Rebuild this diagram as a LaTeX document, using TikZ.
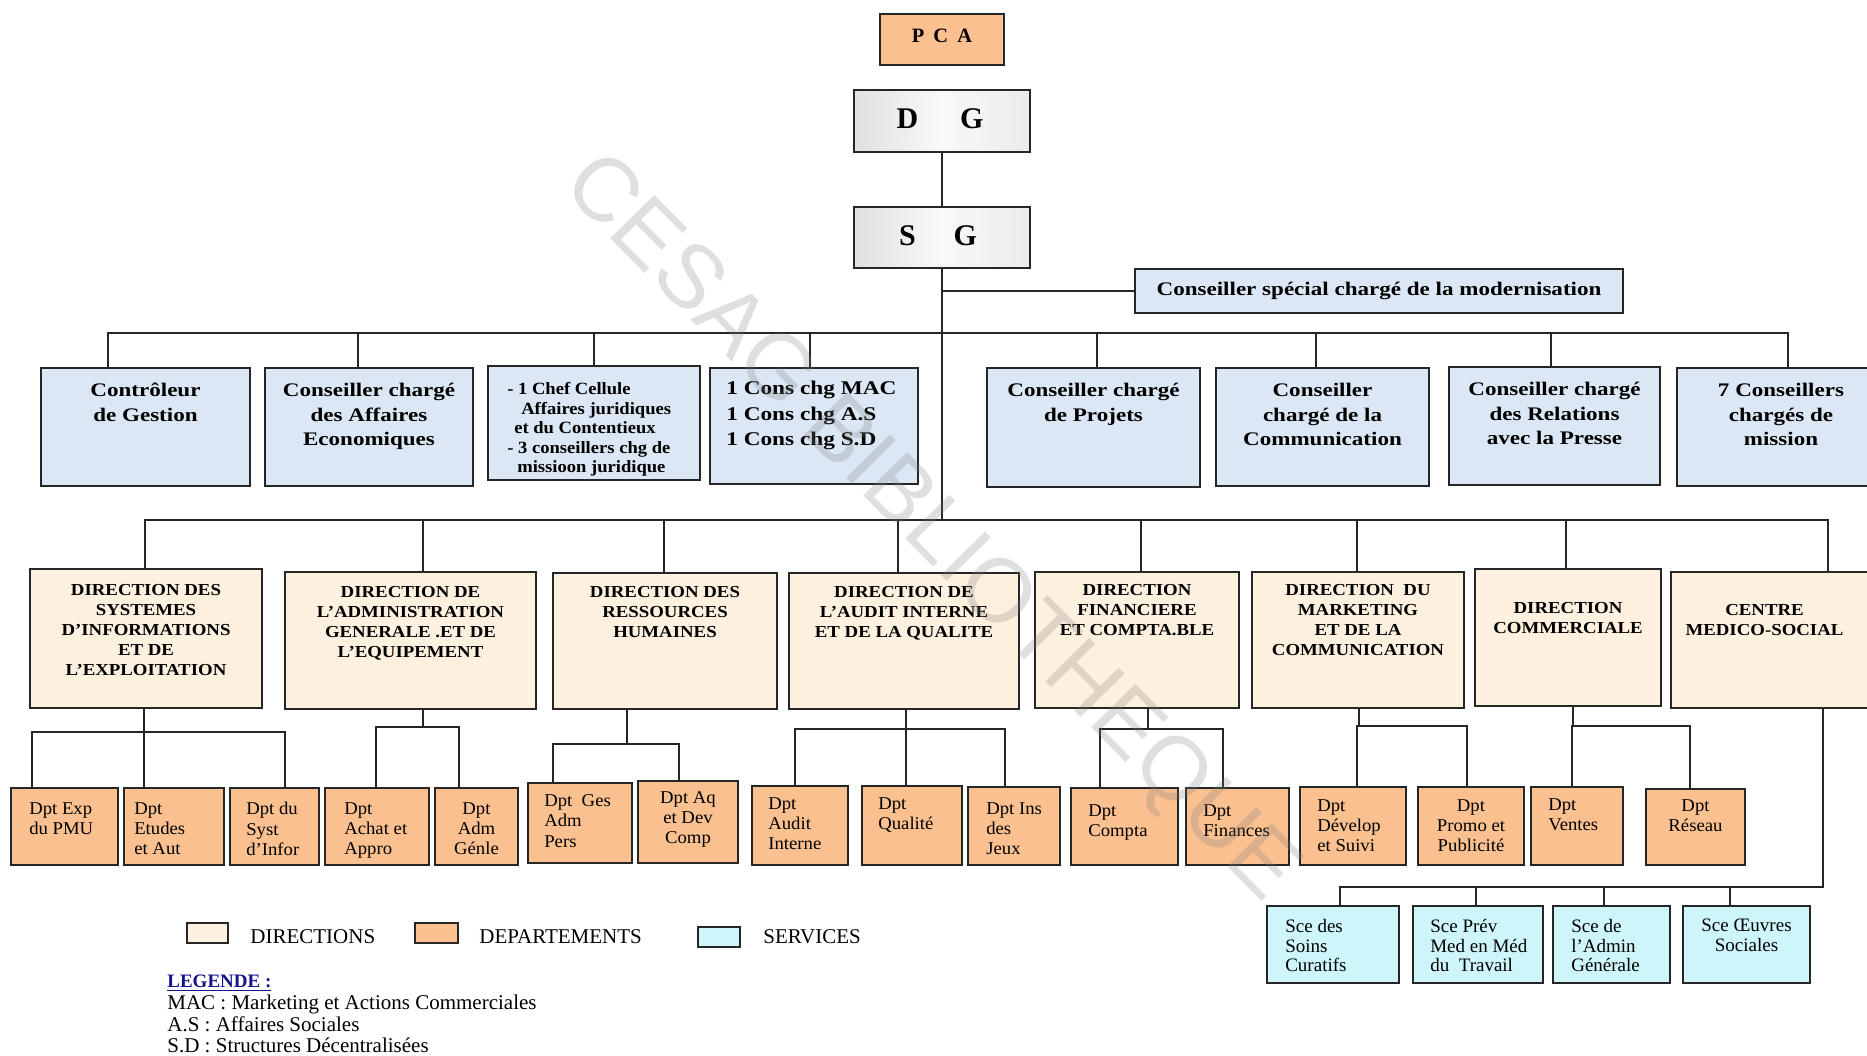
\documentclass[tikz,border=0pt]{standalone}
\usepackage{fontspec}
\setmainfont{Liberation Serif}
\newfontfamily\fwA[FakeStretch=1.2]{Liberation Serif}
\newfontfamily\fwB[FakeStretch=1.12]{Liberation Serif}
\newfontfamily\fwC[FakeStretch=1.04]{Liberation Serif}
\newfontfamily\fwD[FakeStretch=1.08]{Liberation Serif}
\newfontfamily\wmfont{Liberation Sans}
\usetikzlibrary{fit,calc}
\definecolor{cblue}{RGB}{220,231,245}
\definecolor{ccream}{RGB}{253,240,222}
\definecolor{corange}{RGB}{250,192,144}
\definecolor{ccyan}{RGB}{206,246,250}
\definecolor{cnavy}{RGB}{20,20,140}
\newcommand{\mkbox}[6]{\node[#2, fit={(#3,#4) (#5,#6)}] (#1) {};}
\newcommand{\tctr}[4]{\node[#2, anchor=north] (#1-t) at ([yshift=-#3pt]#1.north) {#4};}
\newcommand{\tlft}[5]{\node[#2, anchor=north west, align=left] (#1-t) at ([xshift=#3pt, yshift=-#4pt]#1.north west) {#5};}
\newcommand{\lnDown}[4]{\coordinate (#1) at (#2,#3); \draw[conn] (#1) -- (#1 |- #4.north);}
\newcommand{\lnUp}[4]{\coordinate (#1) at (#2,#3); \draw[conn] (#1 |- #4.south) -- (#1);}
\begin{document}
\begin{tikzpicture}[x=0.5pt, y=-0.5pt,
  box/.style={draw=black!85, line width=1.1pt, inner sep=0pt},
  cbox/.style={box, fill=cblue},
  dbox/.style={box, fill=ccream},
  pbox/.style={box, fill=corange},
  sbox/.style={box, fill=ccyan},
  gbox/.style={box, line width=1.3pt, left color=gray!24, right color=gray!16, middle color=gray!5},
  conn/.style={draw=black!85, line width=0.9pt, line cap=rect},
  r1txt/.style={font=\fwA\bfseries\fontsize{9.6}{12.3}\selectfont, align=center, inner sep=0pt},
  r1sm/.style={font=\fwD\bfseries\fontsize{8.6}{9.8}\selectfont, align=center, inner sep=0pt},
  r1md/.style={font=\fwA\bfseries\fontsize{9.7}{12.7}\selectfont, align=center, inner sep=0pt},
  bigtxt/.style={font=\bfseries\fontsize{15}{17}\selectfont, inner sep=0pt},
  dtxt/.style={font=\fwB\bfseries\fontsize{8.4}{10}\selectfont, align=center, inner sep=0pt},
  ptxt/.style={font=\fwC\fontsize{9}{10.2}\selectfont, align=center, inner sep=0pt},
  stxt/.style={font=\fontsize{9.5}{9.8}\selectfont, align=center, inner sep=0pt},
  legtxt/.style={font=\fontsize{10.5}{11}\selectfont, inner sep=0pt}
]
\useasboundingbox (0,0) rectangle (1867,1055);
\fill[white] (0,0) rectangle (1867,1055);
\clip (0,0) rectangle (1867,1055);

% ---- top ----
\mkbox{pca}{box, fill=corange}{880}{14}{1004}{65}
\node[font=\bfseries\fontsize{10.2}{12}\selectfont, inner sep=0pt] (pca-t) at ([yshift=2pt]pca.center) {P\hspace{0.45em}C\hspace{0.45em}A};
\mkbox{dg}{gbox}{854}{90}{1030}{152}
\node[bigtxt] (dg-t) at ([xshift=-1pt,yshift=1pt]dg.center) {D\hspace{21pt}G};
\mkbox{sg}{gbox}{854}{207}{1030}{268}
\node[bigtxt] (sg-t) at ([xshift=-2pt,yshift=1pt]sg.center) {S\hspace{19pt}G};
\mkbox{cs}{cbox}{1135}{269}{1623}{313}
\node[r1txt] (cs-t) at (cs.center) {Conseiller spécial chargé de la modernisation};

\draw[conn] (dg.south) -- (sg.north);
\coordinate (t2) at (942,520);
\draw[conn] (sg.south) -- (t2);
\draw[conn] (cs.west -| sg.south) -- (cs.west);

% ---- row 1 ----
\mkbox{r1a}{cbox}{41}{368}{250}{486}
\mkbox{r1b}{cbox}{265}{368}{473}{486}
\mkbox{r1c}{cbox}{488}{366}{700}{480}
\mkbox{r1d}{cbox}{710}{368}{918}{484}
\mkbox{r1e}{cbox}{987}{368}{1200}{487}
\mkbox{r1f}{cbox}{1216}{368}{1429}{486}
\mkbox{r1g}{cbox}{1449}{367}{1660}{485}
\mkbox{r1h}{cbox}{1677}{368}{1885}{486}

\tctr{r1a}{r1txt}{8}{Contrôleur\\de Gestion}
\tctr{r1b}{r1txt}{8}{Conseiller chargé\\des Affaires\\Economiques}
\tlft{r1c}{r1sm}{10}{8.5}{- 1 Chef Cellule\\\hspace*{7pt}Affaires juridiques\\\hspace*{3.5pt}et du Contentieux\\- 3 conseillers chg de\\\hspace*{5pt}missioon juridique}
\tlft{r1d}{r1md}{8.5}{7}{1 Cons chg MAC\\1 Cons chg A.S\\1 Cons chg S.D}
\tctr{r1e}{r1txt}{8}{Conseiller chargé\\de Projets}
\tctr{r1f}{r1txt}{8}{Conseiller\\chargé de la\\Communication}
\tctr{r1g}{r1txt}{8}{Conseiller chargé\\des Relations\\avec la Presse}
\tctr{r1h}{r1txt}{8}{7 Conseillers\\chargés de\\mission}

\lnDown{c1a}{108}{333}{r1a}
\lnDown{c1b}{358}{333}{r1b}
\lnDown{c1c}{594}{333}{r1c}
\lnDown{c1d}{810}{333}{r1d}
\lnDown{c1e}{1097}{333}{r1e}
\lnDown{c1f}{1316}{333}{r1f}
\lnDown{c1g}{1551}{333}{r1g}
\lnDown{c1h}{1788}{333}{r1h}
\draw[conn] (c1a) -- (c1h);

% ---- row 2 : directions ----
\mkbox{d1}{dbox}{30}{569}{262}{708}
\mkbox{d2}{dbox}{285}{572}{536}{709}
\mkbox{d3}{dbox}{553}{573}{777}{709}
\mkbox{d4}{dbox}{789}{573}{1019}{709}
\mkbox{d5}{dbox}{1035}{572}{1239}{708}
\mkbox{d6}{dbox}{1252}{572}{1464}{708}
\mkbox{d7}{dbox}{1475}{569}{1661}{706}
\mkbox{d8}{dbox}{1671}{572}{1870}{708}

\tctr{d1}{dtxt}{8}{DIRECTION DES\\SYSTEMES\\D’INFORMATIONS\\ET DE\\L’EXPLOITATION}
\tctr{d2}{dtxt}{7.5}{DIRECTION DE\\L’ADMINISTRATION\\GENERALE .ET DE\\L’EQUIPEMENT}
\tctr{d3}{dtxt}{7}{DIRECTION DES\\RESSOURCES\\HUMAINES}
\tctr{d4}{dtxt}{7}{DIRECTION DE\\L’AUDIT INTERNE\\ET DE LA QUALITE}
\tctr{d5}{dtxt}{6.5}{DIRECTION\\FINANCIERE\\ET COMPTA.BLE}
\tctr{d6}{dtxt}{6.5}{DIRECTION\ \ DU\\MARKETING\\ET DE LA\\COMMUNICATION}
\tctr{d7}{dtxt}{17}{DIRECTION\\COMMERCIALE}
\node[dtxt, anchor=north] (d8-t) at ([xshift=-3pt, yshift=-16.5pt]d8.north) {CENTRE\\MEDICO-SOCIAL};

\lnDown{c2a}{145}{520}{d1}
\lnDown{c2b}{423}{520}{d2}
\lnDown{c2c}{664}{520}{d3}
\lnDown{c2d}{898}{520}{d4}
\lnDown{c2e}{1141}{520}{d5}
\lnDown{c2f}{1357}{520}{d6}
\lnDown{c2g}{1566}{520}{d7}
\lnDown{c2h}{1828}{520}{d8}
\draw[conn] (c2a) -- (c2h);

% ---- row 3 : departements ----
\mkbox{p1}{pbox}{11}{788}{118}{865}
\mkbox{p2}{pbox}{124}{788}{224}{865}
\mkbox{p3}{pbox}{230}{788}{319}{865}
\mkbox{p4}{pbox}{325}{788}{429}{865}
\mkbox{p5}{pbox}{435}{788}{518}{865}
\mkbox{p6}{pbox}{528}{783}{632}{863}
\mkbox{p7}{pbox}{638}{781}{738}{863}
\mkbox{p8}{pbox}{752}{786}{848}{865}
\mkbox{p9}{pbox}{862}{786}{962}{865}
\mkbox{p10}{pbox}{968}{787}{1060}{865}
\mkbox{p11}{pbox}{1071}{788}{1178}{865}
\mkbox{p12}{pbox}{1186}{788}{1289}{865}
\mkbox{p13}{pbox}{1300}{787}{1406}{865}
\mkbox{p14}{pbox}{1418}{787}{1524}{865}
\mkbox{p15}{pbox}{1531}{787}{1623}{865}
\mkbox{p16}{pbox}{1646}{789}{1745}{865}

\tlft{p1}{ptxt}{9.5}{7.5}{Dpt Exp\\du PMU}
\tlft{p2}{ptxt}{5.5}{7.5}{Dpt\\Etudes\\et Aut}
\tlft{p3}{ptxt}{8.5}{7.5}{Dpt du\\Syst\\d’Infor}
\tlft{p4}{ptxt}{10}{7.5}{Dpt\\Achat et\\Appro}
\tctr{p5}{ptxt}{7.5}{Dpt\\Adm\\Génle}
\tlft{p6}{ptxt}{8.5}{6}{Dpt\ \ Ges\\Adm\\Pers}
\tctr{p7}{ptxt}{5.5}{Dpt Aq\\et Dev\\Comp}
\tlft{p8}{ptxt}{8.5}{6}{Dpt\\Audit\\Interne}
\tlft{p9}{ptxt}{8.5}{6}{Dpt\\Qualité}
\tlft{p10}{ptxt}{9.5}{8}{Dpt Ins\\des\\Jeux}
\tlft{p11}{ptxt}{9}{8.5}{Dpt\\Compta}
\tlft{p12}{ptxt}{9}{8.5}{Dpt\\Finances}
\tlft{p13}{ptxt}{9}{6.5}{Dpt\\Dévelop\\et Suivi}
\tctr{p14}{ptxt}{6.5}{Dpt\\Promo et\\Publicité}
\tlft{p15}{ptxt}{9}{6}{Dpt\\Ventes}
\tctr{p16}{ptxt}{5.5}{Dpt\\Réseau}

% group 1
\lnUp{u1}{144}{732}{d1}
\lnDown{g1a}{32}{732}{p1}
\lnDown{g1b}{144}{732}{p2}
\lnDown{g1c}{285}{732}{p3}
\draw[conn] (g1a) -- (g1c);
% group 2
\lnUp{u2}{423}{727}{d2}
\lnDown{g2a}{376}{727}{p4}
\lnDown{g2b}{459}{727}{p5}
\draw[conn] (g2a) -- (g2b);
% group 3
\lnUp{u3}{627}{744}{d3}
\lnDown{g3a}{553}{744}{p6}
\lnDown{g3b}{679}{744}{p7}
\draw[conn] (g3a) -- (g3b);
% group 4
\lnUp{u4}{906}{729}{d4}
\lnDown{g4a}{795}{729}{p8}
\lnDown{g4b}{906}{729}{p9}
\lnDown{g4c}{1005}{729}{p10}
\draw[conn] (g4a) -- (g4c);
% group 5
\lnUp{u5}{1148}{729}{d5}
\lnDown{g5a}{1100}{729}{p11}
\lnDown{g5b}{1223}{729}{p12}
\draw[conn] (g5a) -- (g5b);
% group 6
\lnUp{u6}{1359}{726}{d6}
\lnDown{g6a}{1357}{726}{p13}
\lnDown{g6b}{1467}{726}{p14}
\draw[conn] (g6a) -- (g6b);
% group 7
\lnUp{u7}{1573}{726}{d7}
\lnDown{g7a}{1572}{726}{p15}
\lnDown{g7b}{1690}{726}{p16}
\draw[conn] (g7a) -- (g7b);

% ---- services ----
\mkbox{s1}{sbox}{1267}{906}{1399}{983}
\mkbox{s2}{sbox}{1413}{906}{1543}{983}
\mkbox{s3}{sbox}{1553}{906}{1670}{983}
\mkbox{s4}{sbox}{1683}{906}{1810}{983}
\tlft{s1}{stxt}{9.5}{7}{Sce des\\Soins\\Curatifs}
\tlft{s2}{stxt}{9}{7}{Sce Prév\\Med en Méd\\du\ \ Travail}
\tlft{s3}{stxt}{9.5}{7}{Sce de\\l’Admin\\Générale}
\tctr{s4}{stxt}{7}{Sce Œuvres\\Sociales}

\lnUp{u8}{1823}{887}{d8}
\lnDown{g8a}{1340}{887}{s1}
\lnDown{g8b}{1476}{887}{s2}
\lnDown{g8c}{1604}{887}{s3}
\lnDown{g8d}{1730}{887}{s4}
\draw[conn] (g8a) -- (u8);

% ---- legend ----
\mkbox{l1}{box, line width=1pt, fill=ccream}{187}{923}{228}{943}
\mkbox{l2}{box, line width=1pt, fill=corange}{415}{923}{458}{943}
\mkbox{l3}{box, line width=1pt, fill=ccyan}{698}{927}{740}{947}
\node[legtxt, anchor=west] (l1-t) at ([xshift=10.5pt, yshift=-2pt]l1.east) {DIRECTIONS};
\node[legtxt, anchor=west] (l2-t) at ([xshift=10pt, yshift=-2pt]l2.east) {DEPARTEMENTS};
\node[legtxt, anchor=west] (l3-t) at ([xshift=11pt]l3.east) {SERVICES};

\node[font=\bfseries\fontsize{9.5}{11}\selectfont, text=cnavy, inner sep=0pt, anchor=base west] (leg) at (167,987) {\underline{LEGENDE :}};
\node[legtxt, anchor=base west] (lg1) at (167,1009) {MAC : Marketing et Actions Commerciales};
\node[legtxt, anchor=base west] (lg2) at (167,1031) {A.S : Affaires Sociales};
\node[legtxt, anchor=base west] (lg3) at (167,1052) {S.D : Structures Décentralisées};

% ---- watermark ----
\node[font=\wmfont\fontsize{45}{45}\selectfont, text=gray, text opacity=0.25, rotate=-45.5, inner sep=0pt] (wm) at (929,530) {CESAG BIBLIOTHEQUE};
\end{tikzpicture}
\end{document}
